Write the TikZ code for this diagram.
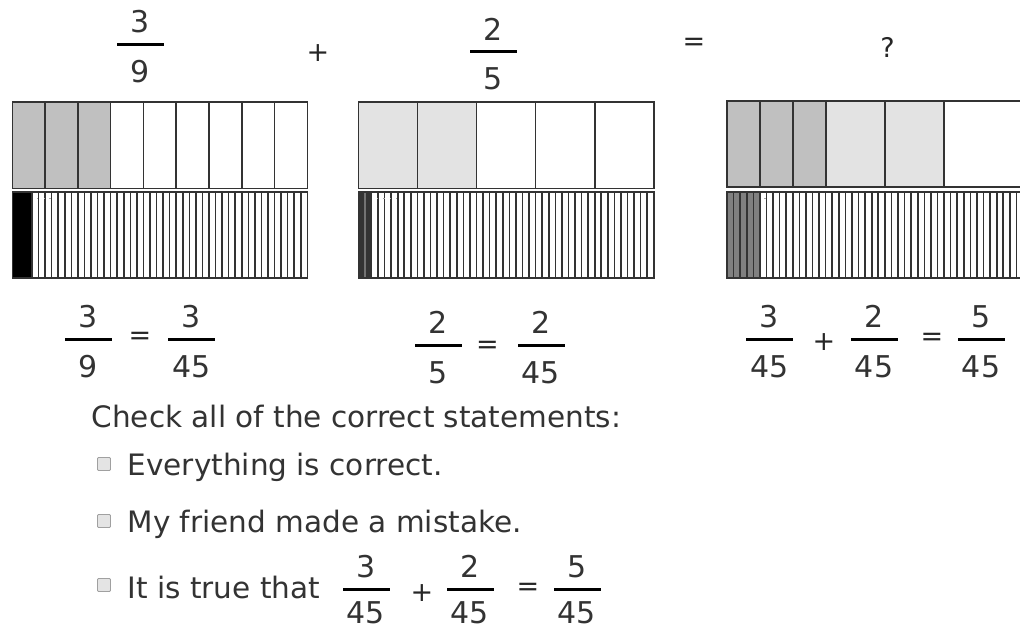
\documentclass[tikz,border=0pt]{standalone}
\usepackage{fontspec}
\setmainfont{DejaVu Sans}
\usetikzlibrary{calc}

\definecolor{ink}{HTML}{333333}
\definecolor{edge}{HTML}{333333}
\definecolor{shadeA}{HTML}{C0C0C0}
\definecolor{shadeB}{HTML}{E3E3E3}
\definecolor{darkpart}{HTML}{333333}
\definecolor{midpart}{HTML}{808080}
\definecolor{boxfill}{HTML}{E4E4E4}
\definecolor{boxline}{HTML}{A0A0A0}

\begin{document}
\begin{tikzpicture}[
  x=1pt, y=-1pt,
  txt/.style={text=ink, font=\fontsize{29.5}{34}\selectfont, inner sep=0pt},
  digit/.style={text=ink, font=\fontsize{30}{34}\selectfont, inner sep=0pt},
  op/.style={text=black!85, font=\fontsize{27}{30}\selectfont, inner sep=0pt},
  fbar/.style={fill=black, minimum width=47pt, minimum height=3pt, inner sep=0pt},
  cell/.style={draw=edge, line width=1.6pt},
  tickbox/.style={draw=boxline, fill=boxfill, line width=0.9pt, rounded corners=1pt,
                  minimum size=13pt, inner sep=0pt},
]
  \useasboundingbox (0,0) rectangle (1020,630);
  \fill[white] (0,0) rectangle (1020,630);
  \clip (0,0) rectangle (1020,630);

  % fraction: name, x, y of the bar, numerator, denominator
  \newcommand{\denoff}{27.5}
  \newcommand{\fracnode}[5]{%
    \node[fbar] (#1) at (#2,#3) {};
    \node[digit] (#1n) at ($(#1)+(0,-22.5)$) {#4};
    \node[digit] (#1d) at ($(#1)+(0,\denoff)$) {#5};
  }
  % bar: [line colour in shaded part] x, y, width, height, parts, shaded parts, colour
  \newcommand{\partbar}[8][edge]{%
    \fill[#8] (#2,#3) rectangle ++({#7*#4/#6},#5);
    \pgfmathtruncatemacro{\lastcut}{#6-1}
    \foreach \k in {1,...,\lastcut}{
      \ifnum\k<#7\relax
        \draw[cell, draw=#1] ({#2+\k*#4/#6},#3) -- ++(0,#5);
      \else
        \draw[cell] ({#2+\k*#4/#6},#3) -- ++(0,#5);
      \fi
    }
    \draw[cell] (#2,#3) rectangle ++(#4,#5);
  }

  % ===================== TOP ROW =====================
  \fracnode{ta}{140.5}{44}{3}{9}
  \node[op] (plus) at (318,53) {+};
  \fracnode{tb}{493}{51.5}{2}{5}
  \node[op] (eq) at (694,44) {=};
  \node[op] (ask) at (887.5,47) {?};

  % ===================== BARS =====================
  \partbar{12.3}{102}{295}{86.5}{9}{3}{shadeA}
  \partbar[black]{12.3}{191.7}{295}{86.3}{45}{3}{black}
  \foreach \px in {37,43.5,49.3}
    \fill[gray!70] (\px,197.5) rectangle ++(1.4,1.4);

  \partbar{358.3}{102}{295.5}{86.5}{5}{2}{shadeB}
  \partbar[black!55]{358.3}{191.7}{295.5}{86.3}{45}{2}{darkpart}
  \foreach \px in {377,383.3,389.7,395.7}
    \fill[gray!70] (\px,197.5) rectangle ++(1.4,1.4);

  % sum bar: 3 ninths then 2 fifths
  \fill[shadeA] (727,101) rectangle ++(98.7,86);
  \fill[shadeB] (825.7,101) rectangle ++(118.4,86);
  \foreach \cx in {759.9,792.8,825.7,884.9,944.1}
    \draw[cell] (\cx,101) -- ++(0,86);
  \draw[cell] (727,101) rectangle ++(296,86);
  \partbar{727}{191.7}{296}{86.3}{45}{5}{midpart}
  \fill[gray!70] (764.3,197.5) rectangle ++(1.4,1.4);

  % ===================== EQUALITIES =====================
  \fracnode{ma}{88.5}{339}{3}{9}
  \node[op] (meqa) at (140,338) {=};
  \fracnode{mb}{191.5}{339}{3}{45}

  \fracnode{mc}{438}{345}{2}{5}
  \node[op] (meqb) at (487.5,347) {=};
  \fracnode{md}{541}{345}{2}{45}

  \fracnode{me}{769.5}{339}{3}{45}
  \node[op] (mplus) at (824,341.7) {+};
  \fracnode{mf}{874}{339}{2}{45}
  \node[op] (meqc) at (932,339) {=};
  \fracnode{mg}{981}{339}{5}{45}

  % ===================== QUESTION =====================
  \node[txt, anchor=base west] (prompt) at (91.5,427) {Check all of the correct statements:};

  \node[tickbox] (boxA) at (104,464) {};
  \node[txt, anchor=base west] (optA) at (127.5,475) {Everything is correct.};
  \node[tickbox] (boxB) at (104,521) {};
  \node[txt, anchor=base west] (optB) at (127.5,532) {My friend made a mistake.};
  \node[tickbox] (boxC) at (104,585) {};
  \node[txt, anchor=base west] (optC) at (127.5,598) {It is true that};

  % last row sits against the lower edge
  \renewcommand{\denoff}{24}
  \fracnode{ba}{366}{589}{3}{45}
  \node[op] (bplus) at (422,593) {+};
  \fracnode{bb}{470}{589}{2}{45}
  \node[op] (beq) at (528,589) {=};
  \fracnode{bc}{577}{589}{5}{45}
\end{tikzpicture}
\end{document}
